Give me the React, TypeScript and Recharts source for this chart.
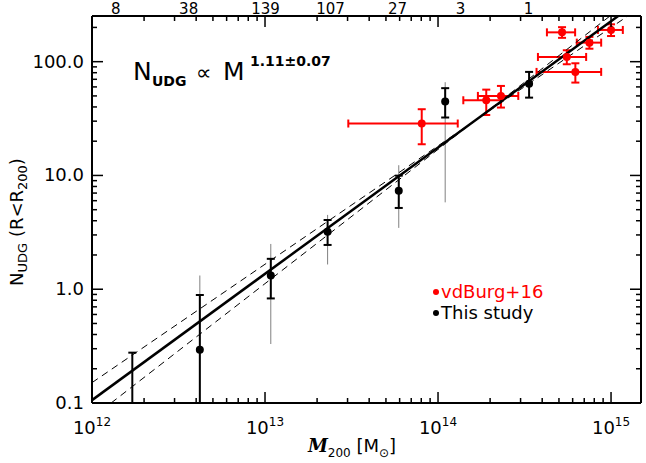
import React from 'react';
import { ScatterChart, Scatter, XAxis, YAxis, ErrorBar } from 'recharts';

// black points, "This study"
const studyMass = [1.71e12, 4.2e12, 1.08e13, 2.3e13, 5.93e13, 1.1e14, 3.36e14];
const studyN = [0.277, 0.294, 1.32, 3.2, 7.35, 44.6, 64];
const studyLo = [0.1, 0.1, 0.83, 2.45, 5.18, 32.3, 48.3];
const studyHi = [0.277, 0.89, 1.85, 4.06, 9.96, 58.5, 81.3];
const studyWideLo = [0.277, 0.1, 0.33, 1.65, 3.46, 5.8, 64];
const studyWideHi = [0.277, 1.32, 2.5, 4.5, 12.3, 66, 64];
const studyLimit = [true, false, false, false, false, false, false];

// red points, vdBurg+16
const burgMass = [8.05e13, 1.9e14, 2.31e14, 5.55e14, 6.22e14, 5.21e14, 7.5e14, 1.0e15];
const burgMassLo = [3.03e13, 1.4e14, 1.7e14, 3.78e14, 3.71e14, 4.26e14, 6.34e14, 8.4e14];
const burgMassHi = [1.3e14, 2.31e14, 2.91e14, 7.18e14, 8.77e14, 6.2e14, 8.77e14, 1.17e15];
const burgN = [28.6, 45.8, 50, 110, 81.3, 181, 147, 190];
const burgNLo = [18.8, 34.0, 39.5, 94.9, 65.5, 162, 130, 168];
const burgNHi = [38.2, 56.8, 61.2, 126, 96.8, 201, 165, 213];

// fit N ~ M^1.11 and the +-0.07 lines (end points)
const fitMass = [1e12, 1.1e15];
const fitN = [0.106, 252];
const fitUpMass = [1e12, 1.25e15];
const fitUpN = [0.151, 252];
const fitLoMass = [1.29e12, 9.86e14];
const fitLoN = [0.1, 252];

// top axis: counts per bin
const topLabelMass = [1.372e12, 3.62e12, 1.008e13, 2.39e13, 5.83e13, 1.347e14, 3.33e14];
const topLabels = ['8', '38', '139', '107', '27', '3', '1'];

const xMajor = [1e12, 1e13, 1e14, 1e15];
const xExp = ['12', '13', '14', '15'];
const yMajor = [0.1, 1, 10, 100];
const yMajorLabels = ['0.1', '1.0', '10.0', '100.0'];

const X_DOMAIN = [1e12, 1.49e15];
const Y_DOMAIN = [0.1, 252];

const FONT = '"DejaVu Sans", sans-serif';

const xTicks: number[] = [];
xMajor.forEach((d) => {
  for (let k = 1; k < 10; k++) {
    const v = d * k;
    if (v <= X_DOMAIN[1]) xTicks.push(v);
  }
});
const yTicks: number[] = [];
yMajor.forEach((d) => {
  for (let k = 1; k < 10; k++) {
    const v = d * k;
    if (v <= Y_DOMAIN[1]) yTicks.push(v);
  }
});

const studyData = studyMass.map((m, i) => ({
  x: m,
  y: studyN[i],
  limit: studyLimit[i],
  ey: [studyN[i] - studyLo[i], studyHi[i] - studyN[i]],
  gy: [studyN[i] - studyWideLo[i], studyWideHi[i] - studyN[i]],
}));

const burgData = burgMass.map((m, i) => ({
  x: m,
  y: burgN[i],
  ex: [m - burgMassLo[i], burgMassHi[i] - m],
  ey: [burgN[i] - burgNLo[i], burgNHi[i] - burgN[i]],
}));

const toLine = (xs: number[], ys: number[]) => xs.map((x, i) => ({ x, y: ys[i] }));
const fitData = toLine(fitMass, fitN);
const fitUpData = toLine(fitUpMass, fitUpN);
const fitLoData = toLine(fitLoMass, fitLoN);

const noShape = () => <g />;

const BottomTick = (props: any) => {
  const { x, y, payload } = props;
  const idx = xMajor.indexOf(payload.value);
  const major = idx >= 0;
  return (
    <g>
      <line x1={x} y1={y} x2={x} y2={y - (major ? 11 : 5)} stroke="#000" strokeWidth={1.5} />
      {major && (
        <text x={x} y={y + 31} textAnchor="middle" fontFamily={FONT} fontSize={18} fill="#000">
          10<tspan fontSize={12} dy={-8}>{xExp[idx]}</tspan>
        </text>
      )}
    </g>
  );
};

const TopTick = (props: any) => {
  const { x, y, payload } = props;
  const li = topLabelMass.indexOf(payload.value);
  if (li >= 0) {
    return (
      <text x={x} y={y - 2} textAnchor="middle" fontFamily={FONT} fontSize={15} fill="#000">
        {topLabels[li]}
      </text>
    );
  }
  const major = xMajor.includes(payload.value);
  return <line x1={x} y1={y} x2={x} y2={y + (major ? 11 : 5)} stroke="#000" strokeWidth={1.5} />;
};

const LeftTick = (props: any) => {
  const { x, y, payload } = props;
  const idx = yMajor.indexOf(payload.value);
  const major = idx >= 0;
  return (
    <g>
      <line x1={x} y1={y} x2={x + (major ? 11 : 5)} y2={y} stroke="#000" strokeWidth={1.5} />
      {major && (
        <text x={x - 8} y={y + 6} textAnchor="end" fontFamily={FONT} fontSize={18} fill="#000">
          {yMajorLabels[idx]}
        </text>
      )}
    </g>
  );
};

const RightTick = (props: any) => {
  const { x, y, payload } = props;
  const major = yMajor.includes(payload.value);
  return <line x1={x} y1={y} x2={x - (major ? 11 : 5)} y2={y} stroke="#000" strokeWidth={1.5} />;
};

const StudyDot = (props: any) => {
  const { cx, cy, payload } = props;
  if (payload.limit) return <g />;
  return <circle cx={cx} cy={cy} r={4} fill="#000" />;
};

const BurgDot = (props: any) => {
  const { cx, cy } = props;
  return <circle cx={cx} cy={cy} r={4} fill="#ff0000" />;
};

export default function App() {
  const axisLine = { stroke: '#000', strokeWidth: 2 };
  return (
    <div style={{ position: 'absolute', left: 0, top: 0, width: 646, height: 463, background: '#fff' }}>
      <ScatterChart width={646} height={463} margin={{ top: 0, right: 0, bottom: 0, left: 0 }}>
        <XAxis
          xAxisId="b"
          dataKey="x"
          type="number"
          scale="log"
          domain={X_DOMAIN}
          allowDataOverflow
          ticks={xTicks}
          interval={0}
          tickSize={0}
          tickMargin={0}
          tickLine={false}
          axisLine={axisLine}
          tick={BottomTick}
          height={60}
        />
        <XAxis
          xAxisId="t"
          orientation="top"
          dataKey="x"
          type="number"
          scale="log"
          domain={X_DOMAIN}
          allowDataOverflow
          ticks={[...xTicks, ...topLabelMass]}
          interval={0}
          tickSize={0}
          tickMargin={0}
          tickLine={false}
          axisLine={axisLine}
          tick={TopTick}
          height={16}
        />
        <YAxis
          yAxisId="l"
          dataKey="y"
          type="number"
          scale="log"
          domain={Y_DOMAIN}
          allowDataOverflow
          ticks={yTicks}
          interval={0}
          tickSize={0}
          tickMargin={0}
          tickLine={false}
          axisLine={axisLine}
          tick={LeftTick}
          width={92}
        />
        <YAxis
          yAxisId="r"
          orientation="right"
          dataKey="y"
          type="number"
          scale="log"
          domain={Y_DOMAIN}
          allowDataOverflow
          ticks={yTicks}
          interval={0}
          tickSize={0}
          tickMargin={0}
          tickLine={false}
          axisLine={axisLine}
          tick={RightTick}
          width={5}
        />

        <Scatter
          xAxisId="b"
          yAxisId="l"
          data={fitUpData}
          line={{ stroke: '#000', strokeWidth: 1, strokeDasharray: '7 5' }}
          shape={noShape}
          isAnimationActive={false}
        />
        <Scatter
          xAxisId="b"
          yAxisId="l"
          data={fitLoData}
          line={{ stroke: '#000', strokeWidth: 1, strokeDasharray: '7 5' }}
          shape={noShape}
          isAnimationActive={false}
        />
        <Scatter
          xAxisId="b"
          yAxisId="l"
          data={fitData}
          line={{ stroke: '#000', strokeWidth: 2.5 }}
          shape={noShape}
          isAnimationActive={false}
        />

        <Scatter xAxisId="b" yAxisId="l" data={studyData} shape={StudyDot} isAnimationActive={false}>
          <ErrorBar dataKey="gy" direction="y" width={0} stroke="#808080" strokeWidth={1} />
          <ErrorBar dataKey="ey" direction="y" width={4} stroke="#000" strokeWidth={2} />
        </Scatter>

        <Scatter xAxisId="b" yAxisId="l" data={burgData} shape={BurgDot} isAnimationActive={false}>
          <ErrorBar dataKey="ex" direction="x" width={4} stroke="#ff0000" strokeWidth={2} />
          <ErrorBar dataKey="ey" direction="y" width={4} stroke="#ff0000" strokeWidth={2} />
        </Scatter>
      </ScatterChart>

      <svg
        width={646}
        height={463}
        style={{ position: 'absolute', left: 0, top: 0, pointerEvents: 'none' }}
        fontFamily={FONT}
      >
        {/* relation */}
        <text x={133} y={80} fontSize={25} fill="#000">N</text>
        <text x={152} y={86} fontSize={14} fontWeight="bold" fill="#000">UDG</text>
        <text x={196} y={80} fontSize={22} fill="#000">∝</text>
        <text x={223} y={80} fontSize={25} fill="#000">M</text>
        <text x={250} y={66} fontSize={14} fontWeight="bold" fill="#000">1.11±0.07</text>

        {/* legend */}
        <circle cx={436} cy={292} r={3} fill="#ff0000" />
        <text x={441} y={298} fontSize={18} fill="#ff0000">vdBurg+16</text>
        <circle cx={436} cy={313} r={3} fill="#000" />
        <text x={441} y={319} fontSize={18} fill="#000">This study</text>

        {/* axis titles */}
        <text transform="translate(23,222) rotate(-90)" textAnchor="middle" fontSize={18} fill="#000">
          N<tspan fontSize={13} dy={4}>UDG</tspan>
          <tspan dy={-4}>{' (R<R'}</tspan>
          <tspan fontSize={13} dy={4}>200</tspan>
          <tspan dy={-4}>)</tspan>
        </text>
        <text x={352} y={452} textAnchor="middle" fontSize={18} fill="#000">
          <tspan fontFamily='"DejaVu Serif", serif' fontStyle="italic" fontWeight="bold">M</tspan>
          <tspan fontSize={12} dy={5}>200</tspan>
          <tspan dy={-5}>{' ['}M</tspan>
          <tspan fontSize={12} dy={5}>⊙</tspan>
          <tspan dy={-5}>]</tspan>
        </text>
      </svg>
    </div>
  );
}
